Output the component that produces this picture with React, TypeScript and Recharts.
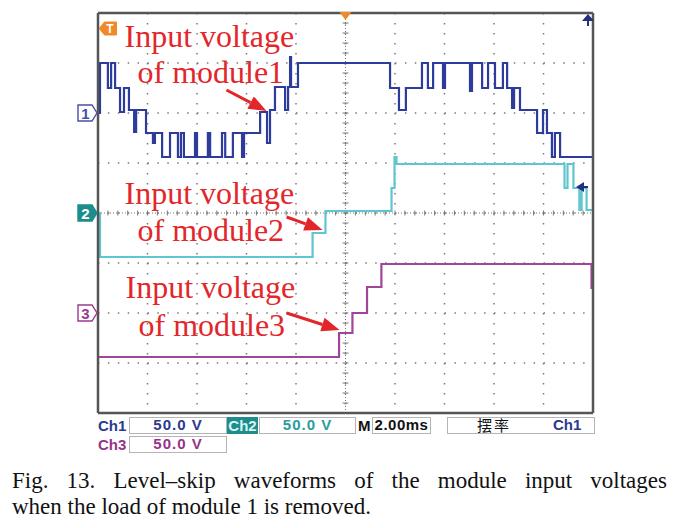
import React from "react";
import {
  LineChart, Line, XAxis, YAxis, CartesianGrid, ReferenceLine, ReferenceDot,
} from "recharts";

// scope: 2.00 ms/div with the trigger in the middle, 50.0 V/div on all channels.
// times in ms, levels in volts above each channel's marker
const ch1Times = [
  -10, -9.92, -9.6, -9.47, -9.31, -9.11, -8.95, -8.75, -8.54, -8.46, -8.06, -7.78, -7.7,
  -7.41, -7.09, -6.77, -6.65, -6.53, -6.08, -6.0, -5.56, -5.47, -4.99, -4.86, -4.55, -4.18,
  -4.1, -3.45, -3.17, -3.05, -2.85, -2.44, -2.32, -2.24, -2.2, -1.92, 1.8, 2.16, 2.44, 3.09,
  3.33, 3.54, 3.94, 4.02, 5.03, 5.11, 5.52, 5.76, 6.04, 6.36, 6.53, 6.73, 6.81, 7.05, 7.74,
  7.98, 8.14, 8.34, 8.46, 8.67, 10,
];
const ch1Volts = [
  0, 50, 25, 50, 25, 1, 25, 3, -19, 3, -20, -30, -20,
  -44, -20, -44, -20, -44, -20, -44, -20, -44, -20, -44, -20, -44,
  -20, 1, -30, 3, 26, 3, 26, 56, 26, 50, 25, 3, 25, 50,
  25, 50, 25, 50, 22, 50, 25, 50, 25, 50, 25, 5, 25, 3, -20,
  3, -20, -44, -20, -44, -44,
];
const ch2Times = [-10, -9.92, -1.33, -0.81, 1.86, 1.98, 2.06, 8.85, 8.97, 9.21, 9.45, 9.54, 9.74, 10];
const ch2Volts = [0, -44, -20, 2, 25, 56, 49, 25, 49, 25, 3, 25, 3, 3];
const ch3Times = [-10, -0.26, 0.28, 0.87, 1.45, 9.94, 10];
const ch3Volts = [-44, -20, 0, 26, 49, 25, 25];

// marker position of each channel on screen (volts, screen centre = 0)
const CH1_OFFSET = 100;
const CH2_OFFSET = 0;
const CH3_OFFSET = -100;

const majorX = [-10, -8, -6, -4, -2, 0, 2, 4, 6, 8, 10];
const majorY = [-200, -150, -100, -50, 0, 50, 100, 150, 200];
const minorX = Array.from({ length: 51 }, (_, i) => +(-10 + i * 0.4).toFixed(2));
const minorY = Array.from({ length: 41 }, (_, i) => -200 + i * 10);

const noteLines = [
  ["Input voltage", "of module1"],
  ["Input voltage", "of module2"],
  ["Input voltage", "of module3"],
];
const noteT = [-8.93, -8.93, -8.89];
const noteV = [166, 9, -85];
const noteGap = [36, 37, 38];
const arrowFrom = [[-4.81, 123], [-2.38, -4], [-2.38, -100]];
const arrowTo = [[-3.19, 102], [-0.93, -17], [-0.24, -117]];

const BLUE = "#2d3c9c";
const CYAN = "#5ec6d0";
const MAGENTA = "#a2449a";
const RED = "#e3262a";
const ORANGE = "#f0892a";
const GRID = "#7a7a7a";
const FRAME = "#555";

const toSeries = (times: number[], volts: number[], offset: number) =>
  times.map((t, i) => ({ t, v: volts[i] + offset }));

function Arrow(props: any) {
  const { x1, y1, x2, y2 } = props;
  const len = Math.hypot(x2 - x1, y2 - y1);
  const ux = (x2 - x1) / len, uy = (y2 - y1) / len;
  const bx = x2 - ux * 18, by = y2 - uy * 18;
  return (
    <g>
      <line x1={x1} y1={y1} x2={bx} y2={by} stroke={RED} strokeWidth={3} />
      <polygon
        points={`${x2},${y2} ${bx - uy * 7},${by + ux * 7} ${bx + uy * 7},${by - ux * 7}`}
        fill={RED}
      />
    </g>
  );
}

function Note({ cx, cy, lines, gap }: any) {
  return (
    <text fontFamily="'Liberation Serif', 'Times New Roman', serif" fontSize={32} fontWeight="normal" fill={RED}>
      <tspan x={cx} y={cy}>{lines[0]}</tspan>
      <tspan x={cx + 13} y={cy + gap}>{lines[1]}</tspan>
    </text>
  );
}

function ChannelTag({ cx, cy, label, color, filled }: any) {
  const x0 = cx - 20, x1 = cx - 6;
  return (
    <g>
      <path
        d={`M${x0},${cy - 8} L${x1},${cy - 8} L${cx - 1},${cy} L${x1},${cy + 8} L${x0},${cy + 8} Z`}
        fill={filled ? color : "#fff"}
        stroke={color}
        strokeWidth={1.4}
      />
      <text x={x0 + 7.5} y={cy + 5.5} textAnchor="middle" fontSize={15} fontWeight="bold"
        fontFamily="'Liberation Sans', Arial, sans-serif" fill={filled ? "#fff" : color}>
        {label}
      </text>
    </g>
  );
}

function TrigTag({ cx, cy }: any) {
  return (
    <g>
      <path d={`M${cx + 2},${cy} L${cx + 7},${cy - 6} L${cx + 18},${cy - 6} L${cx + 18},${cy + 6} L${cx + 7},${cy + 6} Z`}
        fill={ORANGE} stroke={ORANGE} strokeWidth={2} strokeLinejoin="round" />
      <text x={cx + 12} y={cy + 4.5} textAnchor="middle" fontSize={12} fontWeight="bold"
        fontFamily="'Liberation Sans', Arial, sans-serif" fill="#fff">T</text>
    </g>
  );
}

const boxStyle: React.CSSProperties = {
  position: "absolute",
  height: 17,
  boxSizing: "border-box",
  border: "1.5px solid #b4b4b4",
  lineHeight: "14px",
  textAlign: "center",
  letterSpacing: 1,
};

export default function App() {
  const ch1 = toSeries(ch1Times, ch1Volts, CH1_OFFSET);
  const ch2 = toSeries(ch2Times, ch2Volts, CH2_OFFSET);
  const ch3 = toSeries(ch3Times, ch3Volts, CH3_OFFSET);
  const sans = "'Liberation Sans', Arial, sans-serif";

  return (
    <div style={{ position: "relative", width: 668, height: 512, fontFamily: sans, fontSize: 15 }}>
      <LineChart width={600} height={410} margin={{ top: 5, right: 15, bottom: 5, left: 90 }}
        style={{ position: "absolute", left: 0, top: 0 }}>
        <XAxis xAxisId={0} type="number" dataKey="t" domain={[-10, 10]} ticks={majorX} hide allowDataOverflow />
        <YAxis yAxisId={0} type="number" domain={[-200, 200]} ticks={majorY} hide allowDataOverflow />
        <XAxis xAxisId="bot" type="number" domain={[-10, 10]} orientation="bottom" mirror ticks={minorX}
          interval={0} tick={false} tickSize={4} tickLine={{ stroke: GRID }} axisLine={{ stroke: FRAME, strokeWidth: 2.5 }} allowDataOverflow />
        <XAxis xAxisId="top" type="number" domain={[-10, 10]} orientation="top" mirror ticks={minorX}
          interval={0} tick={false} tickSize={4} tickLine={{ stroke: GRID }} axisLine={{ stroke: FRAME, strokeWidth: 2.5 }} allowDataOverflow />
        <YAxis yAxisId="left" type="number" domain={[-200, 200]} orientation="left" mirror ticks={minorY}
          interval={0} tick={false} tickSize={4} tickLine={{ stroke: GRID }} axisLine={{ stroke: FRAME, strokeWidth: 2.5 }} allowDataOverflow />
        <YAxis yAxisId="right" type="number" domain={[-200, 200]} orientation="right" mirror ticks={minorY}
          interval={0} tick={false} tickSize={4} tickLine={{ stroke: GRID }} axisLine={{ stroke: FRAME, strokeWidth: 2.5 }} allowDataOverflow />

        <CartesianGrid vertical={false} stroke={GRID} strokeWidth={1.5} strokeDasharray="1.5 8.4" />
        <CartesianGrid horizontal={false} stroke={GRID} strokeWidth={1.5} strokeDasharray="1.5 8.5" />

        <ReferenceLine x={0} stroke={GRID} strokeDasharray="1 2" />
        <ReferenceLine y={0} stroke={GRID} strokeDasharray="1 2" />
        {minorX.slice(1, -1).map((t) => (
          <ReferenceLine key={`cx${t}`} segment={[{ x: t, y: -2.5 }, { x: t, y: 2.5 }]} stroke={GRID} />
        ))}
        {minorY.slice(1, -1).map((v) => (
          <ReferenceLine key={`cy${v}`} segment={[{ x: -0.12, y: v }, { x: 0.12, y: v }]} stroke={GRID} />
        ))}

        <Line data={ch3} dataKey="v" type="stepAfter" stroke={MAGENTA} strokeWidth={2.2} dot={false} activeDot={false} isAnimationActive={false} />
        <Line data={ch2} dataKey="v" type="stepAfter" stroke={CYAN} strokeWidth={2.2} dot={false} activeDot={false} isAnimationActive={false} />
        <Line data={ch1} dataKey="v" type="stepAfter" stroke={BLUE} strokeWidth={2.2} dot={false} activeDot={false} isAnimationActive={false} />

        <ReferenceDot x={-10} y={CH1_OFFSET} shape={(p: any) => <ChannelTag cx={p.cx} cy={p.cy} label="1" color="#4a4fa6" />} />
        <ReferenceDot x={-10} y={CH2_OFFSET} shape={(p: any) => <ChannelTag cx={p.cx} cy={p.cy} label="2" color="#1e8c8c" filled />} />
        <ReferenceDot x={-10} y={CH3_OFFSET} shape={(p: any) => <ChannelTag cx={p.cx} cy={p.cy} label="3" color="#9a3a8e" />} />
        <ReferenceDot x={-10} y={184.5} shape={(p: any) => <TrigTag cx={p.cx} cy={p.cy} />} />
        <ReferenceDot x={0} y={200} shape={(p: any) => (
          <polygon points={`${p.cx - 6},${p.cy - 1} ${p.cx + 6},${p.cy - 1} ${p.cx},${p.cy + 7}`} fill={ORANGE} />
        )} />
        <ReferenceDot x={10} y={200} shape={(p: any) => (
          <g>
            <polygon points={`${p.cx - 11},${p.cy + 8} ${p.cx + 1},${p.cy + 8} ${p.cx - 5},${p.cy + 1}`} fill="#22307f" />
            <line x1={p.cx - 5} y1={p.cy + 8} x2={p.cx - 5} y2={p.cy + 13} stroke="#22307f" strokeWidth={2} />
          </g>
        )} />
        <ReferenceDot x={10} y={26} shape={(p: any) => (
          <g>
            <polygon points={`${p.cx - 17},${p.cy} ${p.cx - 9},${p.cy - 5} ${p.cx - 9},${p.cy + 5}`} fill="#22307f" />
            <line x1={p.cx - 9} y1={p.cy} x2={p.cx - 5} y2={p.cy} stroke="#22307f" strokeWidth={2} />
          </g>
        )} />

        {noteLines.map((lines, i) => (
          <ReferenceDot key={`n${i}`} x={noteT[i]} y={noteV[i]}
            shape={(p: any) => <Note cx={p.cx} cy={p.cy} lines={lines} gap={noteGap[i]} />} />
        ))}
        {arrowFrom.map((a, i) => (
          <ReferenceLine key={`a${i}`} segment={[{ x: a[0], y: a[1] }, { x: arrowTo[i][0], y: arrowTo[i][1] }]}
            shape={(p: any) => <Arrow {...p} />} />
        ))}
      </LineChart>

      {/* status bar */}
      <div style={{ position: "absolute", left: 90, top: 409, lineHeight: "17px", fontWeight: "bold", color: "#2b3990" }}>Ch1</div>
      <div style={{ ...boxStyle, left: 121, top: 409, width: 98, fontWeight: "bold", color: "#2b3990" }}>50.0 V</div>
      <div style={{ position: "absolute", left: 219, top: 409, width: 31, height: 17, lineHeight: "17px", fontWeight: "bold", background: "#1e8c8c", color: "#d8f4f4", textAlign: "center" }}>Ch2</div>
      <div style={{ ...boxStyle, left: 251, top: 409, width: 97, fontWeight: "bold", color: "#2a9d9d" }}>50.0 V</div>
      <div style={{ position: "absolute", left: 350, top: 409, lineHeight: "17px", fontWeight: "bold", color: "#111" }}>M</div>
      <div style={{ ...boxStyle, left: 364, top: 409, width: 59, fontWeight: "bold", color: "#111", letterSpacing: 0.5 }}>2.00ms</div>
      <div style={{ ...boxStyle, left: 439, top: 409, width: 148, textAlign: "left" }}>
        <span style={{ position: "absolute", left: 29, fontFamily: "'Noto Sans CJK SC', sans-serif", color: "#111", letterSpacing: 2 }}>摆率</span>
        <span style={{ position: "absolute", left: 105, fontWeight: "bold", color: "#2b3990", letterSpacing: 0 }}>Ch1</span>
      </div>
      <div style={{ position: "absolute", left: 90, top: 428, lineHeight: "17px", fontWeight: "bold", color: "#96338a" }}>Ch3</div>
      <div style={{ ...boxStyle, left: 121, top: 428, width: 98, fontWeight: "bold", color: "#96338a" }}>50.0 V</div>

      {/* caption */}
      <div style={{ position: "absolute", left: 4, top: 460, width: 655, fontFamily: "'Liberation Serif', 'Times New Roman', serif", fontSize: 23, lineHeight: "26px", color: "#111" }}>
        <div style={{ textAlign: "justify", textAlignLast: "justify" }}>
          Fig. 13. Level–skip waveforms of the module input voltages
        </div>
        <div>when the load of module 1 is removed.</div>
      </div>
    </div>
  );
}
